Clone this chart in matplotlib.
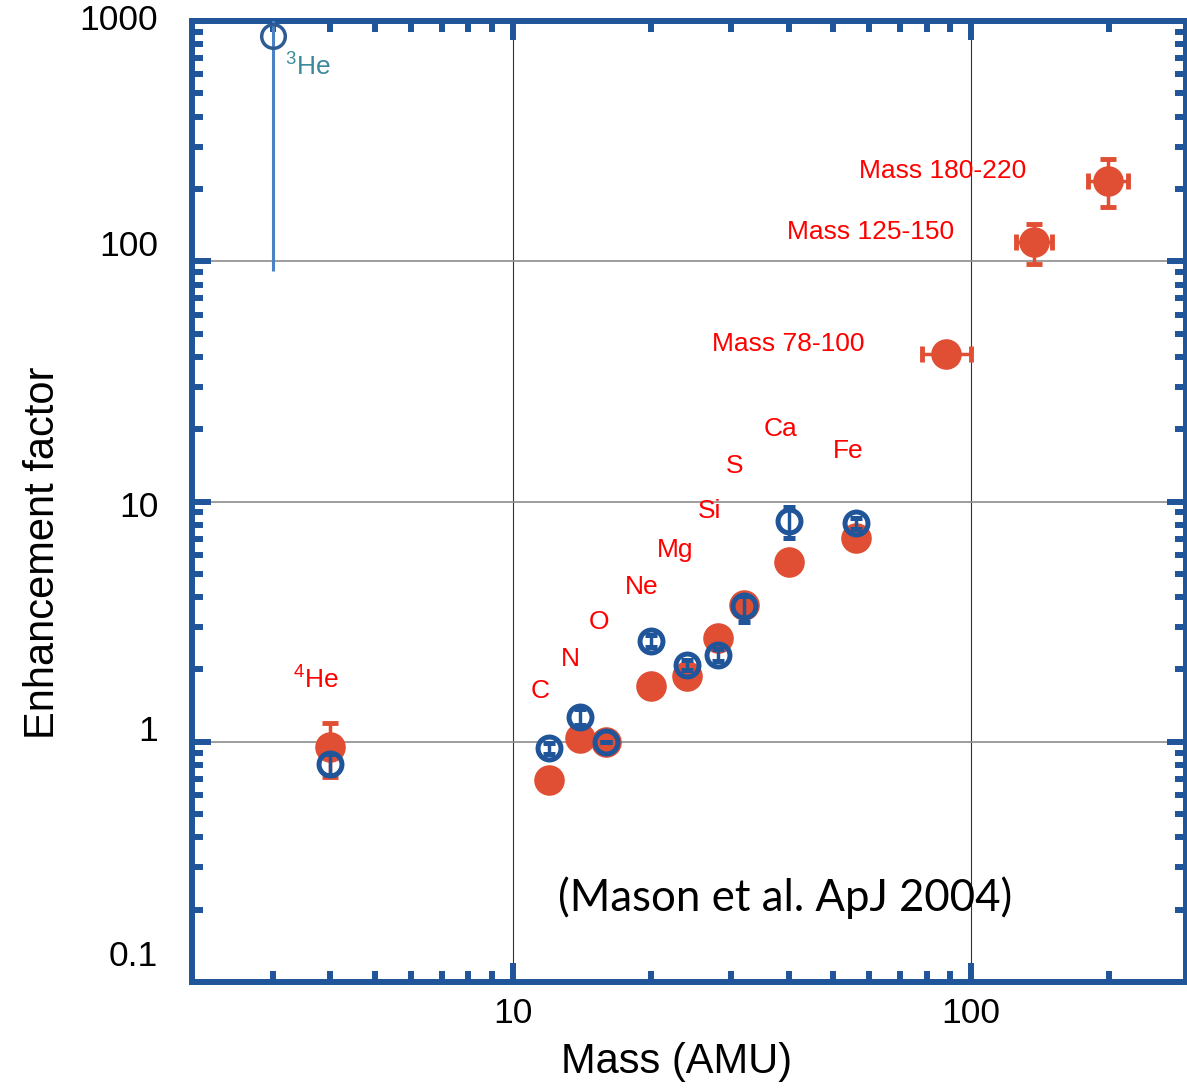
import matplotlib
matplotlib.use("Agg")
import matplotlib.pyplot as plt
import matplotlib.transforms as mtransforms
from matplotlib.ticker import LogLocator, NullFormatter, FixedLocator

plt.rcParams['font.family'] = ['Liberation Sans', 'DejaVu Sans']
plt.rcParams['mathtext.fontset'] = 'custom'
plt.rcParams['mathtext.rm'] = 'Liberation Sans'

# element abundances vs mass
elements = [r'$\mathregular{^4}$He', 'C', 'N', 'O', 'Ne', 'Mg', 'Si', 'S', 'Ca', 'Fe']
mass = [4, 12, 14, 16, 20, 24, 28, 32, 40, 56]
enh_red = [0.95, 0.69, 1.04, 1.0, 1.71, 1.88, 2.71, 3.72, 5.62, 7.08]
red_err_lo = [0.24, 0, 0, 0, 0, 0, 0, 0, 0, 0]
red_err_hi = [0.25, 0, 0, 0, 0, 0, 0, 0, 0, 0]
enh_blue = [0.81, 0.94, 1.27, 1.0, 2.63, 2.09, 2.30, 3.69, 8.33, 8.1]
blue_err_lo = [0.08, 0.05, 0.1, 0, 0.15, 0.1, 0.13, 0.53, 1.25, 0.4]
blue_err_hi = [0.08, 0.05, 0.1, 0, 0.15, 0.1, 0.13, 0.37, 1.19, 0.4]

# heavy ion mass groups
heavy_labels = ['Mass 78-100', 'Mass 125-150', 'Mass 180-220']
heavy_lo = [78, 125, 180]
heavy_hi = [100, 150, 220]
heavy_mass = [88.3, 137, 199]
heavy_enh = [41, 120, 215]
heavy_err_lo = [0, 23, 47]
heavy_err_hi = [0, 23, 51]

# 3He
he3_mass = 3
he3_enh = 866
he3_err_lo = 775
he3_err_hi = 5000

# label positions (data coords)
elem_lab_x = [3.72, 11.5, 13.4, 15.4, 19.1, 22.6, 26.9, 30.5, 38.3, 54]
elem_lab_y = [1.8, 1.63, 2.2, 3.16, 4.42, 6.31, 9.1, 14.0, 20.0, 16.3]
heavy_lab_x = [39.9, 60.2, 86.8]
heavy_lab_y = [45.1, 132, 237]

yticks = [0.1, 1, 10, 100, 1000]
ytick_labels = ['0.1', '1', '10', '100', '1000']
ytick_shift = [25, 10, -6, 15, 0]  # px
xticks = [10, 100]

RED = '#e04e33'
BLUE = '#20559a'
SPINE = '#20559a'

fig = plt.figure(figsize=(11.87, 10.90), dpi=100)
ax = fig.add_axes([192 / 1187, 108 / 1090, 994 / 1187, 961 / 1090])
ax.set_xscale('log')
ax.set_yscale('log')
ax.set_xlim(2, 294)
ax.set_ylim(0.1, 1000)

ax.set_axisbelow(True)
ax.xaxis.grid(True, which='major', color='#333333', lw=0.8)
ax.yaxis.grid(True, which='major', color='#8c8c8c', lw=1.2)

# red: filled circles
ax.errorbar(mass, enh_red, yerr=[red_err_lo, red_err_hi], fmt='o', ms=21,
            color=RED, mec=RED, elinewidth=2.5, capsize=6, capthick=3.5, zorder=3)
ax.errorbar(heavy_mass, heavy_enh,
            xerr=[[m - lo for m, lo in zip(heavy_mass, heavy_lo)],
                  [hi - m for m, hi in zip(heavy_mass, heavy_hi)]],
            yerr=[heavy_err_lo, heavy_err_hi], fmt='o', ms=21,
            color=RED, mec=RED, elinewidth=2.5, capsize=6, capthick=3.5, zorder=3)

# blue: open circles
ax.errorbar(mass, enh_blue, yerr=[blue_err_lo, blue_err_hi], fmt='o', ms=16.5,
            mfc='none', mec=BLUE, mew=3.6, color=BLUE, elinewidth=2.5,
            capsize=4, capthick=3, zorder=4)

ax.errorbar([he3_mass], [he3_enh], yerr=[[he3_err_lo], [he3_err_hi]], fmt='none',
            ecolor='#4a82c3', elinewidth=2.2, zorder=3)
ax.plot([he3_mass], [he3_enh], 'o', ms=17, mfc='none', mec='#2e5b93', mew=2.5, zorder=4)

for lab, x, y in zip(elements, elem_lab_x, elem_lab_y):
    ax.text(x, y, lab, color='#ff0000', fontsize=19, ha='center', va='center')
for lab, x, y in zip(heavy_labels, heavy_lab_x, heavy_lab_y):
    ax.text(x, y, lab, color='#ff0000', fontsize=19, ha='center', va='center')
ax.text(3.57, 643, r'$\mathregular{^3}$He', color='#3a8a9c', fontsize=19,
        ha='center', va='center')

ax.text(0.597, 0.0874, '(Mason et al. ApJ 2004)', transform=ax.transAxes,
        fontsize=31.5, family='Lato', ha='center', va='center')

# ticks
ax.xaxis.set_major_locator(FixedLocator(xticks))
ax.xaxis.set_minor_locator(LogLocator(base=10, subs=range(2, 10), numticks=20))
ax.xaxis.set_minor_formatter(NullFormatter())
ax.set_xticklabels([str(t) for t in xticks])
ax.yaxis.set_major_locator(FixedLocator(yticks))
ax.yaxis.set_minor_locator(LogLocator(base=10, subs=range(2, 10), numticks=20))
ax.yaxis.set_minor_formatter(NullFormatter())
ax.tick_params(which='both', direction='in', top=True, right=True, color=SPINE)
ax.tick_params(which='major', length=14, width=4.3)
ax.tick_params(which='minor', length=8, width=4.3)
ax.tick_params(axis='x', which='major', labelsize=25.5, pad=11)
ax.tick_params(axis='y', which='major', labelleft=False)

for val, lab, dy in zip(yticks, ytick_labels, ytick_shift):
    trans = mtransforms.blended_transform_factory(ax.transAxes, ax.transData)
    trans = trans + mtransforms.ScaledTranslation(0, dy / 100, fig.dpi_scale_trans)
    ax.text(-0.034, val, lab, transform=trans, fontsize=25.5, ha='right', va='center',
            clip_on=False)

for sp in ax.spines.values():
    sp.set_color(SPINE)
    sp.set_linewidth(4.3)

ax.set_xlabel('Mass (AMU)', fontsize=30, va='center')
ax.xaxis.set_label_coords(0.487, -0.083)
ax.set_ylabel('Enhancement factor', fontsize=30, va='center')
ax.yaxis.set_label_coords(-0.150, 0.447)

fig.savefig('out.png', dpi=100)
